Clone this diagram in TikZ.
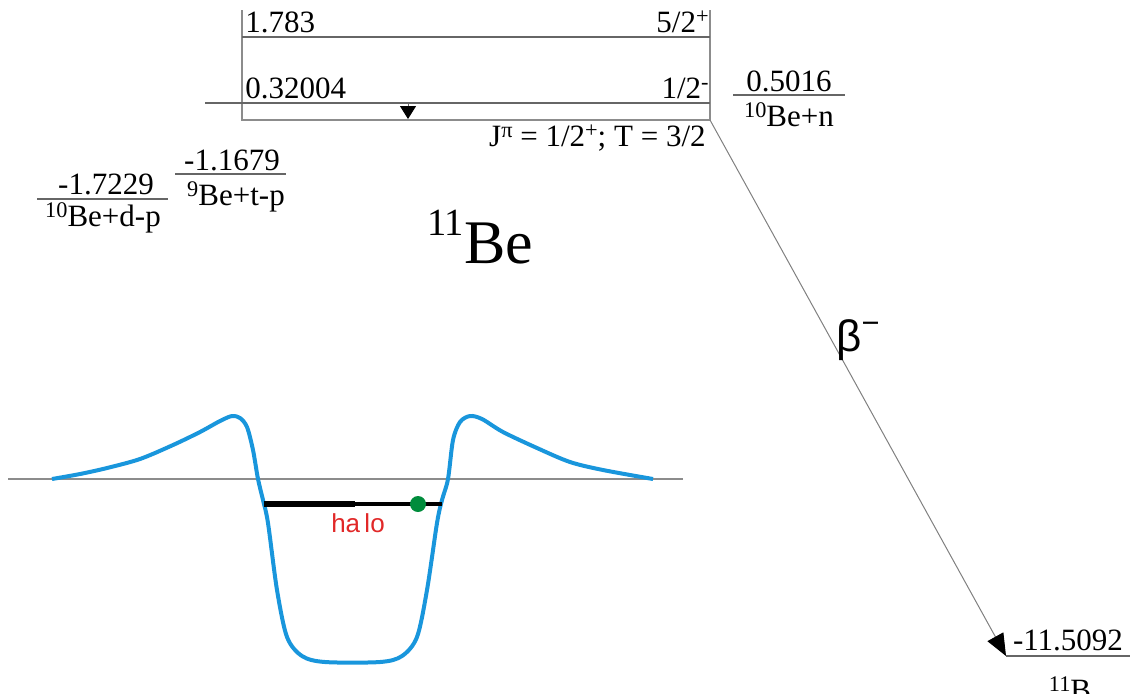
\documentclass[tikz,border=0pt]{standalone}
\usepackage{fontspec}
\setmainfont{Liberation Serif}
\newfontfamily\halofont{Liberation Sans}
\usetikzlibrary{arrows.meta}
\definecolor{waveblue}{RGB}{25,150,220}
\definecolor{dotgreen}{RGB}{0,140,60}
\definecolor{halored}{RGB}{225,40,40}
\newcommand{\upidx}[1]{\raisebox{0.28em}{\scalebox{0.72}{#1}}}

\begin{document}
\begin{tikzpicture}[x=0.5pt, y=-0.5pt,
    box/.style={draw=black!45, line width=0.6pt},
    lvl/.style={draw=black!60, line width=0.7pt},
    txt/.style={font=\fontsize{15.5}{17}\selectfont, inner sep=0pt},
    wave/.style={draw=waveblue, line width=2pt, line join=round}]
    \useasboundingbox (0,0) rectangle (1144,693);
    % level scheme of 11Be
    \coordinate (bl) at (242,120);
    \coordinate (br) at (710,120);
    \coordinate (tl) at (242,10);
    \coordinate (tr) at (710,10);
    \draw[box] (tl) -- (bl) -- (br) -- (tr);
    \coordinate (l1a) at (242,37);
    \coordinate (l1b) at (710,37);
    \draw[lvl] (l1a) -- (l1b);
    \coordinate (l2a) at (205,103);
    \coordinate (l2b) at (710,103);
    \draw[lvl] (l2a) -- (l2b);
    \coordinate (gtop) at (408,103);
    \coordinate (gbot) at (408,119);
    \draw[black!60, line width=0.5pt, -{Triangle[length=6.5pt, width=8pt, black]}] (gtop) -- (gbot);
    \node[txt, anchor=base west] (e1) at (245,32) {1.783};
    \node[txt, anchor=base east] (j1) at (709,32) {5/2\upidx{+}};
    \node[txt, anchor=base west] (e2) at (245,98) {0.32004};
    \node[txt, anchor=base east] (j2) at (709,98) {1/2\upidx{-}};
    \node[txt, anchor=base east] (gs) at (706,146) {J\upidx{π} = 1/2\upidx{+}; T = 3/2};
    % thresholds
    \coordinate (n1) at (733,95);
    \coordinate (n2) at (845,95);
    \draw[lvl] (n1) -- (n2);
    \node[txt, anchor=base] (sn) at (789,91) {0.5016};
    \node[txt, anchor=base] (snlab) at (789,126) {\upidx{10}Be+n};
    \coordinate (d1) at (37,199);
    \coordinate (d2) at (168,199);
    \draw[lvl] (d1) -- (d2);
    \node[txt, anchor=base] (sd) at (106,194) {-1.7229};
    \node[txt, anchor=base] (sdlab) at (103,226) {\upidx{10}Be+d-p};
    \coordinate (t1) at (175,174);
    \coordinate (t2) at (286,174);
    \draw[lvl] (t1) -- (t2);
    \node[txt, anchor=base] (st) at (232,170) {-1.1679};
    \node[txt, anchor=base] (stlab) at (236,205) {\upidx{9}Be+t-p};
    \node[font=\fontsize{31}{34}\selectfont, inner sep=0pt, anchor=base] (nuc) at (480,263) {\raisebox{0.45em}{\scalebox{0.62}{11}}Be};
    % beta decay to 11B
    \coordinate (b1) at (1006,656);
    \coordinate (b2) at (1130,656);
    \draw[lvl] (b1) -- (b2);
    \node[txt, anchor=base] (sb) at (1068,650) {-11.5092};
    \node[txt, anchor=base] (sblab) at (1070,700) {\upidx{11}B};
    \draw[black!50, line width=0.5pt, -{Triangle[length=11pt, width=9pt, black]}] (br) -- (b1);
    \node[font=\halofont\fontsize{22}{24}\selectfont, inner sep=0pt] (beta) at (858,340) {β\raisebox{0.4em}{\scalebox{0.7}{−}}};
    % potential and halo
    \coordinate (ax1) at (8,479);
    \coordinate (ax2) at (683,479);
    \draw[black!45, line width=0.7pt] (ax1) -- (ax2);
    \draw[wave] plot[smooth, tension=0.5] coordinates {
        (52,479) (80,474) (107,468) (140,459) (173,445) (200,432) (220,421)
        (232,416) (240,418) (247,427) (253,450) (258,479) (263,500)
        (268,523) (277,590) (287,637) (302,656) (325,662) (380,662)
        (402,656) (417,637) (427,590) (437,523) (442,500)
        (448,479) (453,440) (460,422) (470,416) (482,419) (503,432)
        (537,448) (570,462) (603,470) (653,479)};
    \coordinate (h1) at (264,504);
    \coordinate (h2) at (355,504);
    \coordinate (h3) at (442,504);
    \draw[black, line width=2.6pt] (h1) -- (h2);
    \draw[black, line width=2.1pt] (h2) -- (h3);
    \fill[dotgreen] (418,504) circle (4pt);
    \node[font=\halofont\fontsize{13}{15}\selectfont, text=halored, inner sep=0pt] (halo) at (358,523) {ha\,lo};
\end{tikzpicture}
\end{document}
